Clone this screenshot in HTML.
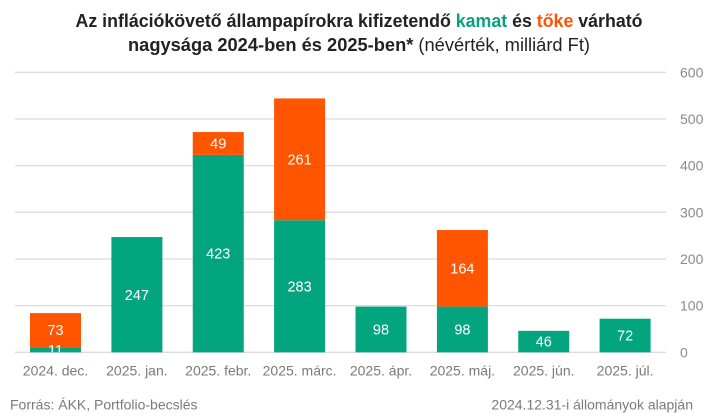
<!DOCTYPE html>
<html>
<head>
<meta charset="utf-8">
<style>
html,body{margin:0;padding:0;background:#fff;}
svg{display:block;}
text{font-family:"Liberation Sans",Arial,sans-serif;}
</style>
</head>
<body>
<svg width="718" height="418" viewBox="0 0 718 418" xmlns="http://www.w3.org/2000/svg">
<defs>
<clipPath id="plot"><rect x="0" y="60" width="718" height="292.3"/></clipPath>
</defs>
<!-- title -->
<text x="359" y="27" text-anchor="middle" font-size="18" font-weight="bold" fill="#222" textLength="567" lengthAdjust="spacingAndGlyphs">Az inflációkövető állampapírokra kifizetendő <tspan fill="#06a37e">kamat</tspan> és <tspan fill="#ff5500">tőke</tspan> várható</text>
<text x="359" y="51" text-anchor="middle" font-size="18" fill="#222" textLength="462" lengthAdjust="spacingAndGlyphs"><tspan font-weight="bold">nagysága 2024-ben és 2025-ben*</tspan> (névérték, milliárd Ft)</text>

<!-- gridlines -->
<g stroke="#dcdcdc" stroke-width="1.3">
<line x1="15" y1="72.3" x2="666" y2="72.3"/>
<line x1="15" y1="119" x2="666" y2="119"/>
<line x1="15" y1="165.6" x2="666" y2="165.6"/>
<line x1="15" y1="212.3" x2="666" y2="212.3"/>
<line x1="15" y1="259" x2="666" y2="259"/>
<line x1="15" y1="305.6" x2="666" y2="305.6"/>
<line x1="15" y1="352.3" x2="666" y2="352.3"/>
</g>
<!-- y labels -->
<g font-size="14" fill="#8a8a8a">
<text x="680" y="77.3">600</text>
<text x="680" y="124">500</text>
<text x="680" y="170.6">400</text>
<text x="680" y="217.3">300</text>
<text x="680" y="264">200</text>
<text x="680" y="310.6">100</text>
<text x="680" y="357.3">0</text>
</g>

<!-- bars -->
<g fill="#03a57f">
<rect x="30" y="347.17" width="51" height="5.13"/>
<rect x="111.4" y="237.03" width="51" height="115.27"/>
<rect x="192.75" y="154.9" width="51" height="197.4"/>
<rect x="274.1" y="220.23" width="51" height="132.07"/>
<rect x="355.5" y="306.57" width="51" height="45.73"/>
<rect x="436.9" y="306.57" width="51" height="45.73"/>
<rect x="518.25" y="330.83" width="51" height="21.47"/>
<rect x="599.6" y="318.7" width="51" height="33.6"/>
</g>
<g fill="#ff5500">
<rect x="30" y="313.1" width="51" height="34.07"/>
<rect x="192.75" y="132.03" width="51" height="22.87"/>
<rect x="274.1" y="98.43" width="51" height="121.8"/>
<rect x="436.9" y="230.03" width="51" height="76.54"/>
</g>

<!-- value labels -->
<g font-size="14.5" fill="#fff" text-anchor="middle" clip-path="url(#plot)">
<text x="55.5" y="354.9">11</text>
<text x="55.5" y="335.2">73</text>
<text x="136.9" y="299.8">247</text>
<text x="218.25" y="258.7">423</text>
<text x="218.25" y="148.6">49</text>
<text x="299.6" y="291.4">283</text>
<text x="299.6" y="164.4">261</text>
<text x="381" y="334.5">98</text>
<text x="462.4" y="334.5">98</text>
<text x="462.4" y="273.4">164</text>
<text x="543.75" y="346.7">46</text>
<text x="625.1" y="340.6">72</text>
</g>

<!-- x labels -->
<g font-size="14" fill="#7a7a7a" text-anchor="middle">
<text x="55.5" y="375.5">2024. dec.</text>
<text x="136.9" y="375.5">2025. jan.</text>
<text x="218.25" y="375.5">2025. febr.</text>
<text x="299.6" y="375.5">2025. márc.</text>
<text x="381" y="375.5">2025. ápr.</text>
<text x="462.4" y="375.5">2025. máj.</text>
<text x="543.75" y="375.5">2025. jún.</text>
<text x="625.1" y="375.5">2025. júl.</text>
</g>

<!-- footer -->
<text x="10" y="409.5" font-size="14" fill="#7a7a7a">Forrás: ÁKK, Portfolio-becslés</text>
<text x="693" y="409.5" font-size="14" fill="#7a7a7a" text-anchor="end">2024.12.31-i állományok alapján</text>
</svg>
</body>
</html>
